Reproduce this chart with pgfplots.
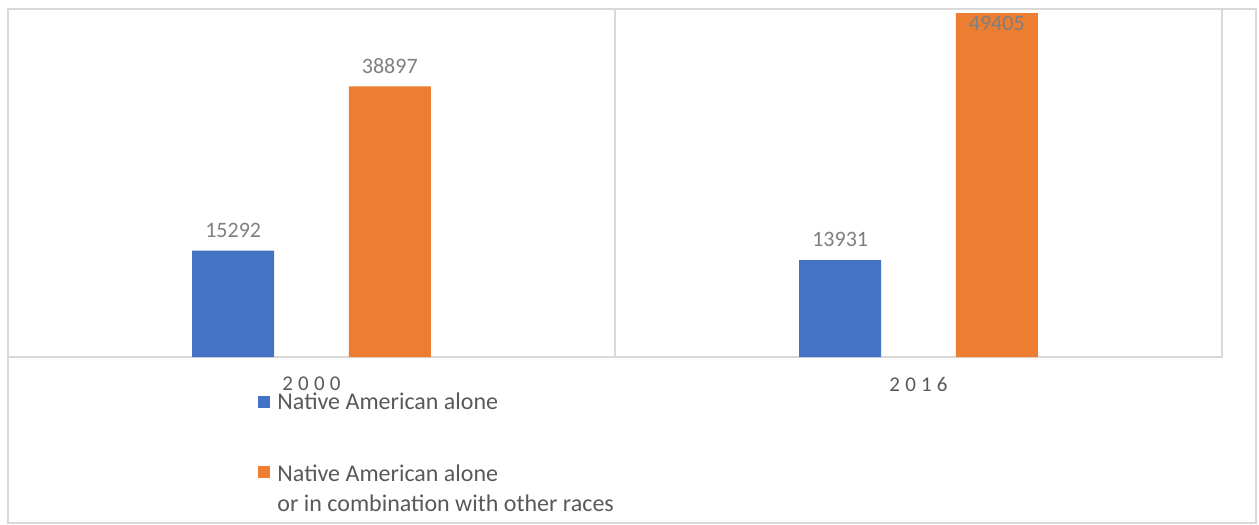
\documentclass[border=0pt]{standalone}
\usepackage{fontspec}
\setmainfont{Carlito}
\usepackage{pgfplots}
\pgfplotsset{compat=1.18}
\definecolor{natblue}{HTML}{4472C4}
\definecolor{natorange}{HTML}{ED7D31}
\definecolor{framegray}{HTML}{D9D9D9}
\definecolor{labelgray}{HTML}{595959}
\definecolor{valgray}{HTML}{7F7F7F}
\newcommand{\ls}{\kern2.6pt}
\begin{document}
\begin{tikzpicture}
\useasboundingbox (0,0) rectangle (629.5pt,262.5pt);
\draw[framegray, line width=1pt] (3.75pt,0.75pt) rectangle (628pt,258pt);
\begin{axis}[
    at={(4pt,84pt)}, anchor=south west,
    scale only axis, width=607pt, height=174pt,
    xmin=-0.5, xmax=1.5, ymin=0, ymax=50000,
    axis line style={framegray, line width=1pt},
    ytick=\empty,
    xtick={0,1},
    xticklabels={2\ls0\ls0\ls0, 2\ls0\ls1\ls6},
    major tick length=0pt,
    extra x ticks={0.5}, extra x tick labels={},
    extra x tick style={grid=major, major grid style={framegray, line width=1pt}},
    xticklabel style={font=\fontsize{10.5}{12}\selectfont, text=labelgray, yshift=-6.5pt},
    ybar, bar width=0.135, bar shift=0pt,
    nodes near coords,
    point meta=explicit symbolic,
    every node near coord/.append style={font=\fontsize{11}{12}\selectfont, text=valgray, yshift=3pt},
    legend image code/.code={\fill[#1] (0pt,-3pt) rectangle (6pt,3pt);},
    legend cell align=left,
    legend style={at={(0.206,-0.095)}, anchor=north west, draw=none, fill=none,
        inner sep=0pt, row sep=22pt,
        nodes={inner sep=1pt, inner xsep=3.5pt, font=\fontsize{12}{15}\selectfont, text=labelgray}},
]
\addplot[fill=natblue, draw=none] coordinates {(-0.129,15292)[15292] (0.871,13931)[13931]};
\addlegendentry{Native American alone}
\addplot[fill=natorange, draw=none] coordinates {(0.129,38897)[38897] (1.129,49405)[]};
\addlegendentry{\begin{tabular}[t]{@{}l@{}}Native American alone\\or in combination with other races\end{tabular}}
\addplot[forget plot, sharp plot, draw=none, mark=none,
    every node near coord/.append style={anchor=north, yshift=-1pt}]
    coordinates {(1.129,49405)[49405]};
\end{axis}
\end{tikzpicture}
\end{document}
